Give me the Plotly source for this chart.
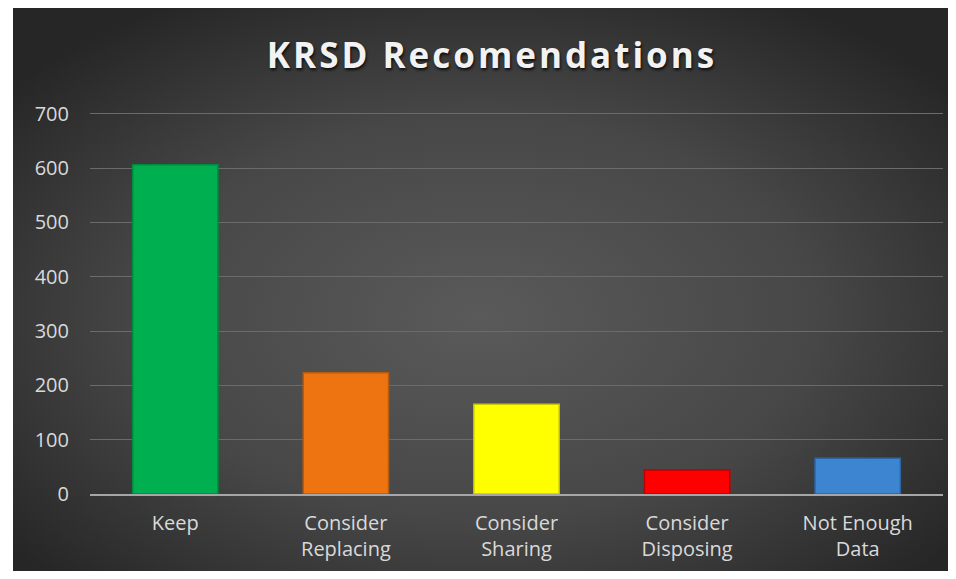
import base64
import plotly.graph_objects as go

categories = ["Keep", "Consider<br>Replacing", "Consider<br>Sharing", "Consider<br>Disposing", "Not Enough<br>Data"]
counts = [606, 223, 165, 44, 66]
bar_colors = ["#00b050", "#ed7410", "#ffff00", "#ff0000", "#3d85d0"]
edge_colors = ["#008a3e", "#b85a0c", "#c8c800", "#c00000", "#2d66a3"]
y_ticks = [0, 100, 200, 300, 400, 500, 600, 700]

# radial grey background like the Excel chart area
svg = """<svg xmlns='http://www.w3.org/2000/svg' width='943' height='571' preserveAspectRatio='none'>
<defs><radialGradient id='g' cx='50%' cy='55%' r='65%'>
<stop offset='0' stop-color='#5a5a5a'/><stop offset='0.55' stop-color='#474747'/>
<stop offset='1' stop-color='#262626'/></radialGradient></defs>
<rect width='943' height='571' fill='url(#g)'/></svg>"""
bg_src = "data:image/svg+xml;base64," + base64.b64encode(svg.encode()).decode()

# page has an 8px body margin all round, so the figure is 16px smaller than the window
W, H = 940, 563
L, R, T, B = 82, 5, 103, 77
pw, ph = W - L - R, H - T - B

fig = go.Figure(go.Bar(
    x=categories, y=counts, width=0.5,
    marker=dict(color=bar_colors, line=dict(color=edge_colors, width=1.5)),
))

fig.add_layout_image(
    source=bg_src, xref="paper", yref="paper",
    x=(5 - L) / pw, y=(H - B) / ph,
    sizex=(W - 5) / pw, sizey=H / ph,
    sizing="stretch", xanchor="left", yanchor="top", layer="below",
)

fig.update_layout(
    width=W, height=H,
    margin=dict(l=L, r=R, t=T, b=B),
    paper_bgcolor="white",
    plot_bgcolor="rgba(0,0,0,0)",
    font=dict(family="Open Sans, sans-serif", size=20, color="#d9d9d9"),
    title=dict(text="<span style='letter-spacing:3px'><b>KRSD Recomendations</b></span>",
               x=484 / W, xanchor="center", y=1 - 48 / H, yanchor="middle",
               font=dict(family="Open Sans, sans-serif", size=35, color="#f2f2f2",
                         shadow="1px 2px 3px rgba(0,0,0,0.8)")),
    showlegend=False,
)
fig.update_xaxes(showgrid=False, showline=True, linecolor="#a6a6a6", linewidth=2,
                 ticks="", ticklabelstandoff=10, tickfont=dict(size=20, color="#d9d9d9"))
fig.update_yaxes(range=[0, 705], tickvals=y_ticks, showgrid=True, gridcolor="#6b6b6b",
                 gridwidth=1, zeroline=False, showline=False, ticks="",
                 ticklabelstandoff=20, tickfont=dict(size=20, color="#d9d9d9"))

fig.write_html("out.html")
